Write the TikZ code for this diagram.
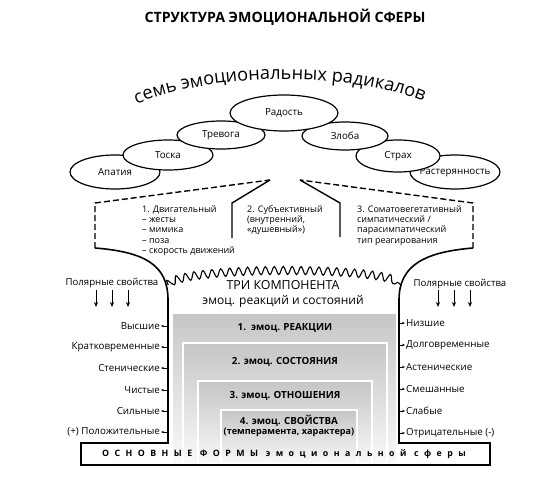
\documentclass[tikz,border=0pt]{standalone}
\usepackage{fontspec}
\setmainfont{Open Sans}
\usetikzlibrary{shapes.geometric,decorations.pathmorphing,decorations.text,arrows.meta}

\begin{document}
\begin{tikzpicture}[x=1pt,y=-1pt,>=stealth,
  emo/.style={ellipse,draw,fill=white,line width=1.2pt,inner sep=0pt,font=\fontsize{9.8}{11}\selectfont},
  comp/.style={anchor=north west,inner sep=0pt,align=left,font=\fontsize{9}{10.4}\selectfont},
  pole/.style={inner sep=1pt,font=\fontsize{9.6}{11}\selectfont},
  lprop/.style={anchor=east,inner sep=1pt,font=\fontsize{9.8}{11}\selectfont},
  rprop/.style={anchor=west,inner sep=1pt,font=\fontsize{9.8}{11}\selectfont},
  tick/.style={-{Stealth[length=3pt,width=2.4pt]},line width=0.5pt},
  down/.style={-{Stealth[length=5pt,width=4pt]},line width=1pt},
  form/.style={draw=white,line width=1.4pt,top color=gray!45,bottom color=gray!4},
  formtext/.style={font=\bfseries\fontsize{9.8}{11}\selectfont}]

  \useasboundingbox (0,0) rectangle (559,481);

  % title
  \node[font=\bfseries\fontsize{14.2}{16}\selectfont] (title) at (285,17) {СТРУКТУРА ЭМОЦИОНАЛЬНОЙ СФЕРЫ};

  % seven radicals
  \path[decorate,decoration={text along path,text align=center,
    text={|\fontsize{18.2}{18}\selectfont|семь эмоциональных радикалов}}]
    (126,109) .. controls (205,70) and (355,70) .. (434,106);

  \node[emo,minimum width=90pt,minimum height=34pt] (apat) at (115,172) {Апатия};
  \node[emo,minimum width=90pt,minimum height=30pt] (tosk) at (168,155) {Тоска};
  \node[emo,minimum width=88pt,minimum height=28pt] (trev) at (221,135) {Тревога};
  \node[emo,minimum width=90pt,minimum height=34pt] (rast) at (455,172) {\makebox[0pt]{Растерянность}};
  \node[emo,minimum width=84pt,minimum height=32pt] (strah) at (398,156) {Страх};
  \node[emo,minimum width=86pt,minimum height=28pt] (zlob) at (345,136) {Злоба};
  \node[emo,minimum width=108pt,minimum height=36pt] (rad) at (284,113) {Радость};

  % three components
  \coordinate (lapex) at (270,180);
  \coordinate (rapex) at (300,180);
  \draw[line width=1.4pt,dash pattern=on 6pt off 3pt] (95,248) -- (95,203) -- (lapex);
  \draw[line width=1.4pt,dash pattern=on 6pt off 3pt] (473,248) -- (473,203) -- (rapex);
  \draw[line width=1.4pt] (lapex) -- (232,203) -- (232,238);
  \draw[line width=1.4pt] (rapex) -- (340,203) -- (340,237);

  \node[comp] (c1) at (142,205) {1. Двигательный\\– жесты\\– мимика\\– поза\\– скорость движений};
  \node[comp] (c2) at (247,205) {2. Субъективный\\(внутренний,\\«душевный»)};
  \node[comp] (c3) at (357,205) {3. Соматовегетативный\\симпатический /\\парасимпатический\\тип реагирования};

  % forms
  \shade[form] (172,313) rectangle (397,464);
  \shade[form] (183,343) rectangle (387,464);
  \shade[form] (198,381) rectangle (372,464);
  \shade[form] (221,410) rectangle (357,464);

  \node[formtext] (f1) at (285,328) {1.\ \ эмоц. РЕАКЦИИ};
  \node[formtext] (f2) at (285,362) {2. эмоц. СОСТОЯНИЯ};
  \node[formtext] (f3) at (285,396) {3. эмоц. ОТНОШЕНИЯ};
  \node[formtext,align=center] (f4) at (289,426)
    {4. эмоц. СВОЙСТВА\\[-1pt]{\fontsize{9.1}{11}\selectfont(темперамента, характера)}};

  % funnel
  \draw[line width=1.6pt] (95,248) .. controls (145,252) and (168,265) .. (168,300)
    -- (168,443) -- (81,443) -- (81,465) -- (490,465) -- (490,443) -- (399,443)
    -- (399,300) .. controls (399,265) and (425,252) .. (473,248);
  \draw[line width=1.1pt,decorate,decoration={snake,amplitude=4pt,segment length=8.9pt}]
    (168,285) .. controls (182,267) and (388,267) .. (401,285);

  \node[font=\fontsize{12.4}{14}\selectfont] (three) at (283,285) {ТРИ КОМПОНЕНТА};
  \node[font=\fontsize{12}{14}\selectfont] (three2) at (283,301) {эмоц. реакций и состояний};

  \node[font=\bfseries\fontsize{8.8}{10}\selectfont\addfontfeature{LetterSpace=62}] (base) at (284,454)
    {ОСНОВНЫЕ ФОРМЫ эмоциональной сферы};

  % polar properties
  \node[pole] (lpol) at (112,283) {Полярные свойства};
  \node[pole] (rpol) at (460,284) {Полярные свойства};
  \draw[down] (96,290) -- (96,307);
  \draw[down] (112,290) -- (112,307);
  \draw[down] (128,290) -- (128,307);
  \draw[down] (438,290) -- (438,307);
  \draw[down] (454,290) -- (454,307);
  \draw[down] (470,290) -- (470,307);

  \node[lprop] (l1) at (161,326) {Высшие};
  \node[lprop] (l2) at (161,347) {Кратковременные};
  \node[lprop] (l3) at (161,368) {Стенические};
  \node[lprop] (l4) at (161,390) {Чистые};
  \node[lprop] (l5) at (161,411) {Сильные};
  \node[lprop] (l6) at (161,432) {(+) Положительные};

  \node[rprop] (r1) at (405,323) {Низшие};
  \node[rprop] (r2) at (405,345) {Долговременные};
  \node[rprop] (r3) at (405,367) {Астенические};
  \node[rprop] (r4) at (405,389) {Смешанные};
  \node[rprop] (r5) at (405,411) {Слабые};
  \node[rprop] (r6) at (405,433) {Отрицательные (-)};

  \draw[tick] (168,326) -- (l1.east);
  \draw[tick] (168,347) -- (l2.east);
  \draw[tick] (168,368) -- (l3.east);
  \draw[tick] (168,390) -- (l4.east);
  \draw[tick] (168,411) -- (l5.east);
  \draw[tick] (168,432) -- (l6.east);
  \draw[tick] (399,323) -- (r1.west);
  \draw[tick] (399,345) -- (r2.west);
  \draw[tick] (399,367) -- (r3.west);
  \draw[tick] (399,389) -- (r4.west);
  \draw[tick] (399,411) -- (r5.west);
  \draw[tick] (399,433) -- (r6.west);
\end{tikzpicture}
\end{document}
